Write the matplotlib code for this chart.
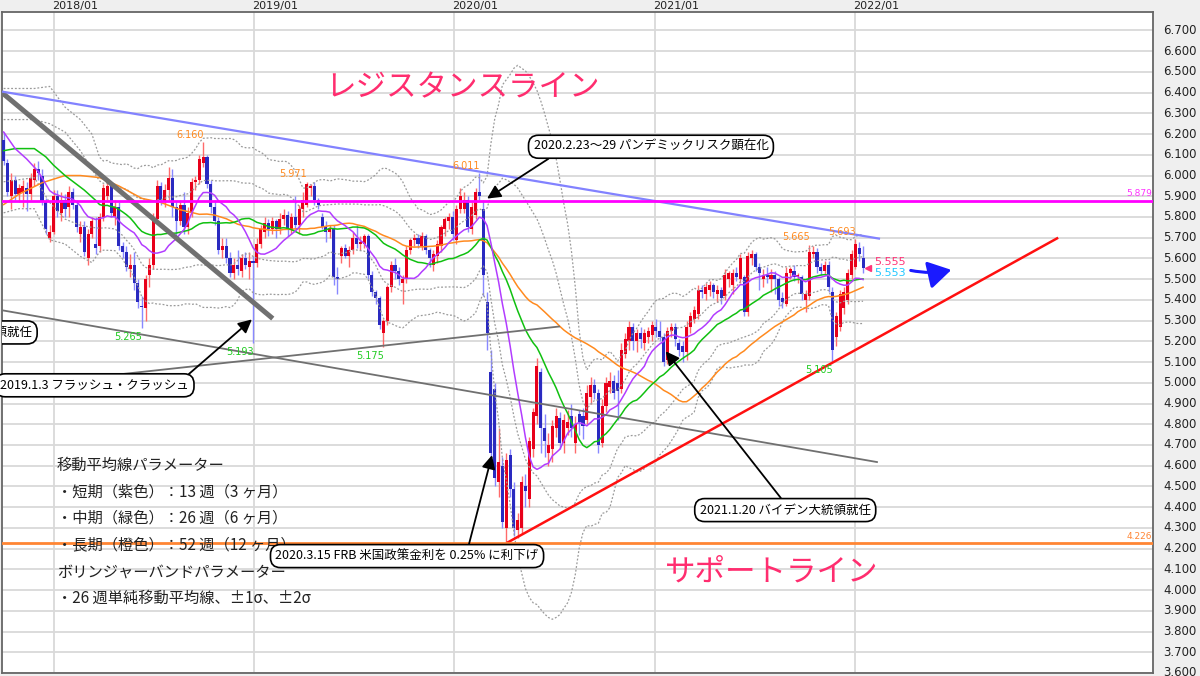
import numpy as np
import pandas as pd
import matplotlib
matplotlib.use("Agg")
import matplotlib.pyplot as plt
import matplotlib.dates as mdates
from matplotlib.patches import FancyArrowPatch
from matplotlib.transforms import blended_transform_factory, ScaledTranslation

JP = ["Noto Sans CJK JP", "DejaVu Sans"]

# ---------------------------------------------------------------------------
# Weekly candles, first week starts 2017-10-01
# ---------------------------------------------------------------------------
first_week = "2017-10-01"

opens = [
    6.17, 6.06, 5.90, 5.98, 5.91, 5.92, 5.94, 5.91, 5.98, 6.03,
    6.00, 5.87, 5.70, 5.73, 5.90, 5.82, 5.88, 5.85, 5.92, 5.86,
    5.72, 5.75, 5.60, 5.72, 5.67, 5.66, 5.80, 5.90, 5.95, 5.80,
    5.85, 5.66, 5.63, 5.55, 5.57, 5.48, 5.37, 5.36, 5.52, 5.57,
    5.79, 5.95, 5.87, 5.93, 5.99, 5.85, 5.78, 5.86, 5.75, 5.82,
    5.97, 5.98, 6.06, 6.09, 5.96, 5.85, 5.78, 5.64, 5.66, 5.60,
    5.53, 5.57, 5.54, 5.60, 5.56, 5.59, 5.58, 5.67, 5.73, 5.77,
    5.74, 5.78, 5.74, 5.79, 5.81, 5.74, 5.80, 5.76, 5.84, 5.86,
    5.94, 5.95, 5.88, 5.80, 5.75, 5.73, 5.74, 5.51, 5.61, 5.65,
    5.61, 5.64, 5.70, 5.67, 5.67, 5.71, 5.52, 5.44, 5.41, 5.24,
    5.30, 5.46, 5.57, 5.54, 5.48, 5.50, 5.64, 5.69, 5.70, 5.66,
    5.71, 5.64, 5.57, 5.61, 5.66, 5.74, 5.78, 5.80, 5.69, 5.84,
    5.84, 5.88, 5.74, 5.81, 5.92, 5.84, 5.39, 5.05, 4.97, 4.52,
    4.60, 4.30, 4.65, 4.49, 4.29, 4.30, 4.50, 4.44, 4.68, 4.84,
    5.05, 4.78, 4.66, 4.68, 4.78, 4.83, 4.71, 4.78, 4.84, 4.71,
    4.85, 4.84, 4.82, 4.93, 4.99, 4.95, 4.71, 4.89, 4.98, 5.01,
    5.00, 4.97, 5.14, 5.20, 5.27, 5.20, 5.24, 5.19, 5.22, 5.23,
    5.27, 5.25, 5.22, 5.11, 5.25, 5.27, 5.19, 5.18, 5.15, 5.27,
    5.31, 5.33, 5.45, 5.43, 5.45, 5.47, 5.43, 5.45, 5.42, 5.50,
    5.47, 5.53, 5.50, 5.51, 5.34, 5.60, 5.62, 5.56, 5.50, 5.52,
    5.50, 5.52, 5.50, 5.41, 5.38, 5.53, 5.54, 5.51, 5.51, 5.40,
    5.42, 5.62, 5.63, 5.56, 5.54, 5.57, 5.44, 5.22, 5.27, 5.36,
    5.40, 5.52, 5.56, 5.65, 5.60,
]
highs = [
    6.21, 6.08, 6.01, 6.00, 5.96, 5.98, 5.97, 6.01, 6.06, 6.07,
    6.03, 5.89, 5.76, 5.93, 5.93, 5.92, 5.91, 5.95, 5.94, 5.88,
    5.78, 5.78, 5.74, 5.80, 5.80, 5.82, 5.96, 5.98, 5.97, 5.88,
    5.87, 5.68, 5.66, 5.62, 5.63, 5.50, 5.42, 5.52, 5.60, 5.82,
    5.98, 5.97, 5.96, 6.04, 6.03, 5.87, 5.88, 5.92, 5.85, 5.99,
    6.00, 6.10, 6.16, 6.10, 5.98, 5.88, 5.80, 5.70, 5.70, 5.63,
    5.60, 5.64, 5.62, 5.63, 5.63, 5.61, 5.70, 5.76, 5.80, 5.79,
    5.80, 5.79, 5.82, 5.84, 5.83, 5.82, 5.90, 5.86, 5.92, 5.971,
    5.96, 5.97, 5.89, 5.82, 5.78, 5.76, 5.76, 5.56, 5.66, 5.67,
    5.66, 5.73, 5.76, 5.71, 5.72, 5.72, 5.54, 5.45, 5.42, 5.31,
    5.47, 5.59, 5.60, 5.56, 5.52, 5.66, 5.70, 5.72, 5.72, 5.73,
    5.72, 5.65, 5.64, 5.69, 5.76, 5.80, 5.82, 5.83, 5.86, 5.94,
    5.92, 5.90, 5.87, 5.94, 6.011, 5.88, 5.44, 5.16, 5.00, 4.78,
    4.64, 4.66, 4.68, 4.52, 4.37, 4.55, 4.56, 4.74, 4.88, 5.12,
    5.07, 4.85, 4.76, 4.82, 4.88, 4.86, 4.85, 4.87, 4.90, 4.84,
    4.87, 4.88, 4.99, 5.03, 5.02, 4.97, 4.92, 5.03, 5.05, 5.04,
    5.06, 5.19, 5.24, 5.30, 5.29, 5.26, 5.27, 5.26, 5.27, 5.30,
    5.31, 5.30, 5.24, 5.27, 5.29, 5.29, 5.21, 5.20, 5.30, 5.34,
    5.37, 5.47, 5.47, 5.48, 5.49, 5.48, 5.47, 5.46, 5.55, 5.54,
    5.55, 5.56, 5.62, 5.52, 5.63, 5.64, 5.63, 5.58, 5.55, 5.56,
    5.55, 5.54, 5.51, 5.44, 5.56, 5.56, 5.57, 5.53, 5.52, 5.45,
    5.665, 5.66, 5.65, 5.58, 5.59, 5.59, 5.46, 5.34, 5.45, 5.46,
    5.55, 5.64, 5.693, 5.68, 5.66,
]
lows = [
    6.05, 5.90, 5.84, 5.88, 5.87, 5.85, 5.83, 5.88, 5.95, 5.98,
    5.86, 5.72, 5.68, 5.72, 5.80, 5.78, 5.80, 5.80, 5.84, 5.73,
    5.68, 5.61, 5.57, 5.70, 5.62, 5.63, 5.78, 5.88, 5.80, 5.76,
    5.64, 5.60, 5.54, 5.51, 5.45, 5.36, 5.265, 5.30, 5.46, 5.55,
    5.77, 5.86, 5.85, 5.88, 5.80, 5.69, 5.76, 5.72, 5.72, 5.80,
    5.93, 5.96, 6.04, 5.94, 5.82, 5.76, 5.62, 5.60, 5.58, 5.51,
    5.50, 5.52, 5.51, 5.55, 5.50, 5.193, 5.56, 5.65, 5.70, 5.71,
    5.72, 5.70, 5.72, 5.76, 5.71, 5.72, 5.74, 5.72, 5.80, 5.85,
    5.90, 5.86, 5.84, 5.74, 5.68, 5.70, 5.47, 5.43, 5.58, 5.60,
    5.56, 5.62, 5.65, 5.64, 5.65, 5.50, 5.42, 5.38, 5.26, 5.175,
    5.28, 5.44, 5.50, 5.47, 5.38, 5.48, 5.62, 5.66, 5.65, 5.64,
    5.62, 5.56, 5.54, 5.58, 5.63, 5.71, 5.74, 5.69, 5.67, 5.82,
    5.82, 5.73, 5.72, 5.79, 5.88, 5.42, 5.16, 4.60, 4.50, 4.45,
    4.30, 4.226, 4.45, 4.26, 4.25, 4.27, 4.40, 4.40, 4.64, 4.80,
    4.66, 4.64, 4.60, 4.62, 4.74, 4.68, 4.66, 4.75, 4.74, 4.66,
    4.75, 4.73, 4.80, 4.90, 4.92, 4.66, 4.69, 4.86, 4.95, 4.92,
    4.82, 4.95, 5.12, 5.16, 5.16, 5.15, 5.17, 5.16, 5.19, 5.20,
    5.22, 5.20, 5.08, 5.09, 5.22, 5.18, 5.13, 5.10, 5.11, 5.24,
    5.29, 5.31, 5.41, 5.40, 5.42, 5.41, 5.39, 5.38, 5.40, 5.46,
    5.43, 5.49, 5.48, 5.32, 5.32, 5.57, 5.54, 5.45, 5.46, 5.48,
    5.44, 5.43, 5.37, 5.36, 5.37, 5.50, 5.49, 5.48, 5.40, 5.34,
    5.40, 5.60, 5.53, 5.52, 5.52, 5.44, 5.105, 5.18, 5.25, 5.33,
    5.38, 5.50, 5.55, 5.59, 5.53,
]
closes = [
    6.07, 5.92, 5.98, 5.91, 5.94, 5.95, 5.91, 5.99, 6.03, 6.01,
    5.87, 5.74, 5.73, 5.90, 5.83, 5.88, 5.84, 5.92, 5.86, 5.75,
    5.75, 5.63, 5.72, 5.78, 5.65, 5.80, 5.94, 5.95, 5.82, 5.85,
    5.66, 5.63, 5.56, 5.57, 5.48, 5.39, 5.365, 5.50, 5.57, 5.79,
    5.95, 5.88, 5.93, 5.99, 5.85, 5.78, 5.86, 5.75, 5.82, 5.97,
    5.98, 6.08, 6.09, 5.96, 5.85, 5.78, 5.64, 5.66, 5.60, 5.53,
    5.57, 5.55, 5.60, 5.57, 5.59, 5.58, 5.67, 5.74, 5.77, 5.74,
    5.78, 5.74, 5.79, 5.81, 5.74, 5.80, 5.76, 5.84, 5.88, 5.96,
    5.95, 5.88, 5.86, 5.75, 5.73, 5.74, 5.51, 5.50, 5.65, 5.61,
    5.64, 5.70, 5.67, 5.68, 5.71, 5.52, 5.44, 5.41, 5.28, 5.30,
    5.46, 5.57, 5.54, 5.50, 5.50, 5.64, 5.69, 5.70, 5.67, 5.71,
    5.64, 5.60, 5.62, 5.67, 5.75, 5.79, 5.80, 5.72, 5.84, 5.90,
    5.88, 5.75, 5.85, 5.92, 5.90, 5.52, 5.24, 4.66, 4.54, 4.62,
    4.33, 4.63, 4.49, 4.30, 4.34, 4.52, 4.48, 4.72, 4.86, 5.08,
    4.78, 4.72, 4.70, 4.79, 4.84, 4.71, 4.82, 4.81, 4.78, 4.80,
    4.81, 4.79, 4.95, 4.99, 4.95, 4.70, 4.89, 5.00, 5.01, 4.95,
    4.96, 5.16, 5.21, 5.27, 5.20, 5.24, 5.21, 5.24, 5.25, 5.28,
    5.25, 5.22, 5.10, 5.25, 5.27, 5.21, 5.16, 5.15, 5.27, 5.32,
    5.35, 5.45, 5.44, 5.46, 5.47, 5.44, 5.45, 5.41, 5.52, 5.53,
    5.53, 5.51, 5.60, 5.34, 5.61, 5.62, 5.56, 5.53, 5.52, 5.51,
    5.52, 5.50, 5.40, 5.39, 5.53, 5.55, 5.51, 5.52, 5.43, 5.43,
    5.63, 5.63, 5.56, 5.54, 5.57, 5.46, 5.16, 5.32, 5.43, 5.44,
    5.53, 5.62, 5.67, 5.62, 5.555,
]
last_bid = 5.553

# average lines for the weeks before each window fills
ma13_head_weeks = [0, 3, 6, 9]
ma13_head = [6.21, 6.13, 6.08, 6.02]
ma26_head_weeks = [0, 3, 8, 11, 13, 16, 21, 24]
ma26_head = [6.12, 6.13, 6.13, 6.09, 6.05, 6.00, 5.93, 5.88]
ma52_head_weeks = [0, 4, 10, 16, 20, 25, 30, 36, 41, 46]
ma52_head = [5.86, 5.91, 5.965, 6.00, 6.00, 5.99, 5.95, 5.89, 5.87, 5.835]
bb_head_weeks = [0, 4, 8, 12, 16, 20, 23]
bb_up2_head = [6.42, 6.42, 6.42, 6.43, 6.33, 6.27, 6.20]
bb_up1_head = [6.27, 6.27, 6.27, 6.25, 6.21, 6.12, 6.03]
bb_lo1_head = [5.97, 5.98, 5.99, 5.87, 5.79, 5.76, 5.75]
bb_lo2_head = [5.82, 5.84, 5.84, 5.69, 5.67, 5.61, 5.58]

# drawn lines (date, price)
resist_line = (["2017-09-28", "2022-02-16"], [6.405, 5.695])
support_line = (["2020-04-05", "2023-01-07"], [4.226, 5.70])
channel_line = (["2017-09-28", "2019-02-04"], [6.40, 5.31])
gray_line_1 = (["2017-09-28", "2022-02-12"], [5.35, 4.617])
gray_line_2 = (["2018-05-01", "2020-07-12"], [5.041, 5.272])
resist_level = 5.879
support_level = 4.226

high_marks = [52, 79, 124, 210, 222]
low_marks = [36, 65, 99, 216]

legend_lines = [
    "移動平均線パラメーター",
    "・短期（紫色）：13 週（3 ヶ月）",
    "・中期（緑色）：26 週（6 ヶ月）",
    "・長期（橙色）：52 週（12 ヶ月）",
    "ボリンジャーバンドパラメーター",
    "・26 週単純移動平均線、±1σ、±2σ",
]


def d(s):
    return mdates.date2num(pd.Timestamp(s))


dates = pd.date_range(first_week, periods=len(closes), freq="7D")
x = mdates.date2num(dates)
o, h, l, c = (np.array(a, dtype=float) for a in (opens, highs, lows, closes))

s = pd.Series(c)
ma13 = s.rolling(13).mean().to_numpy()
ma26 = s.rolling(26).mean().to_numpy()
ma52 = s.rolling(52).mean().to_numpy()
sd26 = s.rolling(26).std(ddof=0).to_numpy()


def with_head(weeks, vals, series, start):
    return (np.concatenate([x[weeks], x[start:]]),
            np.concatenate([vals, series[start:]]))


# ---------------------------------------------------------------------------
# Figure
# ---------------------------------------------------------------------------
fig = plt.figure(figsize=(12, 6.76), dpi=100, facecolor="#efefef")
ax = fig.add_axes([2 / 1200, 3 / 676, 1151 / 1200, 661 / 676])
ax.set_facecolor("white")
ax.set_xlim(d("2017-09-28"), d("2023-06-29"))
ax.set_ylim(3.605, 6.789)

yt = np.round(np.arange(3.6, 6.75, 0.1), 1)
years = [2018, 2019, 2020, 2021, 2022]
ax.set_yticks(yt)
ax.set_xticks([d(f"{y}-01-01") for y in years])
ax.tick_params(length=0, labelleft=False, labelright=False,
               labelbottom=False, labeltop=False)
ax.grid(True, color="#d9d9d9", lw=1.3)
ax.set_axisbelow(True)
for sp in ax.spines.values():
    sp.set_color("#666666")
    sp.set_linewidth(1.3)

ytrans = blended_transform_factory(ax.transAxes, ax.transData) + \
    ScaledTranslation(10 / 100, 0, fig.dpi_scale_trans)
for v in yt:
    ax.text(1.0, v, f"{v:.3f}", transform=ytrans, ha="left", va="center",
            fontsize=8.5, color="#222222", clip_on=False)
xtrans = ax.get_xaxis_transform() + ScaledTranslation(-2 / 100, 1 / 100, fig.dpi_scale_trans)
for y in years:
    ax.text(d(f"{y}-01-01"), 1.0, f"{y}/01", transform=xtrans, ha="left",
            va="bottom", fontsize=8, color="#222222", clip_on=False)

# candles
up = c >= o
body = np.maximum(np.abs(c - o), 0.006)
bottom = np.minimum(o, c)
ax.vlines(x[up], l[up], h[up], color="#ff6b6b", lw=1.0, zorder=2)
ax.vlines(x[~up], l[~up], h[~up], color="#8888ff", lw=1.0, zorder=2)
ax.bar(x[up], body[up], bottom=bottom[up], width=5.6, color="#e8001a", lw=0, zorder=3)
ax.bar(x[~up], body[~up], bottom=bottom[~up], width=5.6, color="#2a2ac0", lw=0, zorder=3)

# bollinger bands
dot = dict(color="#9a9a9a", lw=0.9, ls=(0, (1.5, 1.5)), zorder=4)
for k, head in ((2, bb_up2_head), (1, bb_up1_head), (-1, bb_lo1_head), (-2, bb_lo2_head)):
    ax.plot(*with_head(bb_head_weeks, head, ma26 + k * sd26, 25), **dot)

# moving averages
ax.plot(*with_head(ma52_head_weeks, ma52_head, ma52, 51), color="#ff8a1f", lw=1.1, zorder=4)
ax.plot(*with_head(ma26_head_weeks, ma26_head, ma26, 25), color="#10c010", lw=1.1, zorder=4)
ax.plot(*with_head(ma13_head_weeks, ma13_head, ma13, 12), color="#b23cff", lw=1.1, zorder=4)


# trend lines
def draw_line(line, **kw):
    ds, vs = line
    ax.plot([d(t) for t in ds], vs, solid_capstyle="butt", **kw)


draw_line(channel_line, color="#707070", lw=3.6, zorder=5)
draw_line(gray_line_1, color="#707070", lw=1.3, zorder=5)
draw_line(gray_line_2, color="#707070", lw=1.3, zorder=5)
draw_line(resist_line, color="#8282ff", lw=1.6, zorder=5)
draw_line(support_line, color="#ff1010", lw=1.8, zorder=5)
ax.axhline(resist_level, color="#ff00ff", lw=2.0, zorder=5)
ax.axhline(support_level, color="#ff8533", lw=2.0, zorder=5)
edge = blended_transform_factory(ax.transAxes, ax.transData)
ax.text(0.999, resist_level + 0.012, f"{resist_level:.3f}", transform=edge,
        ha="right", va="bottom", fontsize=6.5, color="#ff33ff")
ax.text(0.999, support_level + 0.012, f"{support_level:.3f}", transform=edge,
        ha="right", va="bottom", fontsize=6.5, color="#ff8533")

# high / low marks
for i in high_marks:
    ax.text(x[i] + 1, h[i] + 0.012, f"{h[i]:.3f}", ha="right", va="bottom",
            fontsize=7, color="#ff8a1f", zorder=6)
for i in low_marks:
    ax.text(x[i] + 1, l[i] - 0.02, f"{l[i]:.3f}", ha="right", va="top",
            fontsize=7, color="#22cc22", zorder=6)

# last price tags
ax.plot(d("2022-01-25"), c[-1], marker="<", ms=5, color="#ff3377", zorder=6)
ax.text(d("2022-02-06"), c[-1] + 0.03, f"{c[-1]:.3f}", ha="left", va="center",
        fontsize=8, color="#ff3377")
ax.text(d("2022-02-06"), last_bid - 0.025, f"{last_bid:.3f}", ha="left", va="center",
        fontsize=8, color="#22c8ff")
ax.add_patch(FancyArrowPatch((d("2022-04-08"), 5.545), (d("2022-07-01"), 5.548),
                             connectionstyle="arc3,rad=0.12",
                             arrowstyle="-|>,head_length=1.0,head_width=0.6",
                             mutation_scale=14, color="#1a1aff", lw=2.2, zorder=7))

# titles for the lines
ax.text(d("2020-01-17"), 6.423, "レジスタンスライン", ha="center", va="center",
        fontsize=22, color="#ff2d6f", family=JP, zorder=6)
ax.text(d("2021-08-02"), 4.087, "サポートライン", ha="center", va="center",
        fontsize=22, color="#ff2d6f", family=JP, zorder=6)

# event callouts
box = dict(boxstyle="round,pad=0.4,rounding_size=0.8", fc="white", ec="black", lw=1.2)
callouts = [
    ("2020.2.23〜29 パンデミックリスク顕在化", "2020-12-25", 6.139, "2020-03-01", 5.889, (0.1, 0.0)),
    ("2019.1.3 フラッシュ・クラッシュ", "2018-03-16", 4.988, "2018-12-28", 5.306, (0.97, 1.0)),
    ("2020.3.15 FRB 米国政策金利を 0.25% に利下げ", "2019-10-07", 4.164, "2020-03-10", 4.651, (0.73, 1.0)),
    ("2021.1.20 バイデン大統領就任", "2021-08-27", 4.386, "2021-01-21", 5.152, (0.5, 1.0)),
]
for txt, tx, ty, px, py, rel in callouts:
    ax.annotate(txt, xy=(d(px), py), xytext=(d(tx), ty), ha="center", va="center",
                fontsize=9, family=JP, color="black", bbox=box, zorder=8,
                arrowprops=dict(arrowstyle="-|>,head_length=0.9,head_width=0.45",
                                color="black", lw=1.3, relpos=rel, shrinkA=0, shrinkB=0))
ax.text(d("2017-11-22"), 5.243, "2021.1.20 バイデン大統領就任", ha="right", va="center",
        fontsize=9, family=JP, color="black", bbox=box, zorder=8, clip_on=True)

# parameter notes
for k, line in enumerate(legend_lines):
    ax.text(0.0478, 4.603 - k * 0.1285, line, transform=edge,
            ha="left", va="center", fontsize=11, family=JP, color="#222222", zorder=6)

fig.savefig("out.png", dpi=100, facecolor=fig.get_facecolor())
